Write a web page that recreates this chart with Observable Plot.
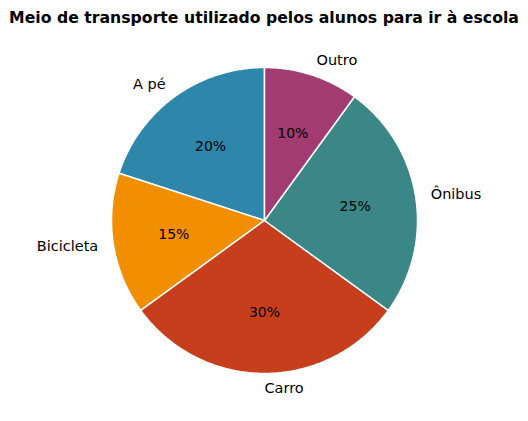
<!DOCTYPE html>
<html>
<head>
<meta charset="utf-8">
<script src="https://cdn.jsdelivr.net/npm/d3@7"></script>
<script src="https://cdn.jsdelivr.net/npm/@observablehq/plot@0.6"></script>
<style>
  body { margin: 0; background: #fff; }
  #title { width: 528px; height: 36px; line-height: 36px; text-align: center;
    font-family: "DejaVu Sans", sans-serif; font-weight: bold; font-size: 15.7px; color: #000; white-space: nowrap; }
</style>
</head>
<body>
<div id="title">Meio de transporte utilizado pelos alunos para ir à escola</div>
<div id="chart"></div>
<script>
const categories = ["A pé", "Bicicleta", "Carro", "Ônibus", "Outro"];
const values = [20, 15, 30, 25, 10];
const colors = ["#2E86AB", "#F18F01", "#C73E1D", "#3B8686", "#A23B72"];
const startAngle = 90;

const total = d3.sum(values);
let cum = 0;
const slices = categories.map((name, i) => {
  const a1 = startAngle + 360 * cum / total;
  cum += values[i];
  const a2 = startAngle + 360 * cum / total;
  return { name, value: values[i], a1, a2, mid: (a1 + a2) / 2 };
});

const rad = (deg) => deg * Math.PI / 180;
const polys = [];
for (const s of slices) {
  polys.push({ name: s.name, x: 0, y: 0 });
  const n = Math.max(2, Math.ceil((s.a2 - s.a1) * 2));
  for (let k = 0; k <= n; k++) {
    const a = rad(s.a1 + (s.a2 - s.a1) * k / n);
    polys.push({ name: s.name, x: Math.cos(a), y: Math.sin(a) });
  }
  polys.push({ name: s.name, x: 0, y: 0 });
}

const labels = slices.map(s => ({
  name: s.name,
  x: 1.1 * Math.cos(rad(s.mid)),
  y: 1.1 * Math.sin(rad(s.mid))
}));
const pcts = slices.map(s => ({
  text: Math.round(100 * s.value / total) + "%",
  x: 0.6 * Math.cos(rad(s.mid)),
  y: 0.6 * Math.sin(rad(s.mid))
}));

const R = 153, cx = 264, cy = 184;
const chart = Plot.plot({
  width: 528, height: 385,
  margin: 0,
  style: { fontFamily: "DejaVu Sans, sans-serif", fontSize: "14px", background: "white" },
  x: { domain: [-1, 1], range: [cx - R, cx + R], axis: null },
  y: { domain: [-1, 1], range: [cy + R, cy - R], axis: null },
  color: { domain: categories, range: colors },
  marks: [
    Plot.line(polys, { x: "x", y: "y", z: "name", fill: "name", stroke: "white", strokeWidth: 1.5, strokeLinejoin: "round" }),
    Plot.text(pcts, { x: "x", y: "y", text: "text", fill: "black", fontSize: 14, textAnchor: "middle" }),
    Plot.text(labels.filter(d => d.x > -1e-9), { x: "x", y: "y", text: "name", fill: "black", fontSize: 14.5, textAnchor: "start" }),
    Plot.text(labels.filter(d => d.x <= -1e-9), { x: "x", y: "y", text: "name", fill: "black", fontSize: 14.5, textAnchor: "end" })
  ]
});
document.getElementById("chart").appendChild(chart);
</script>
</body>
</html>
